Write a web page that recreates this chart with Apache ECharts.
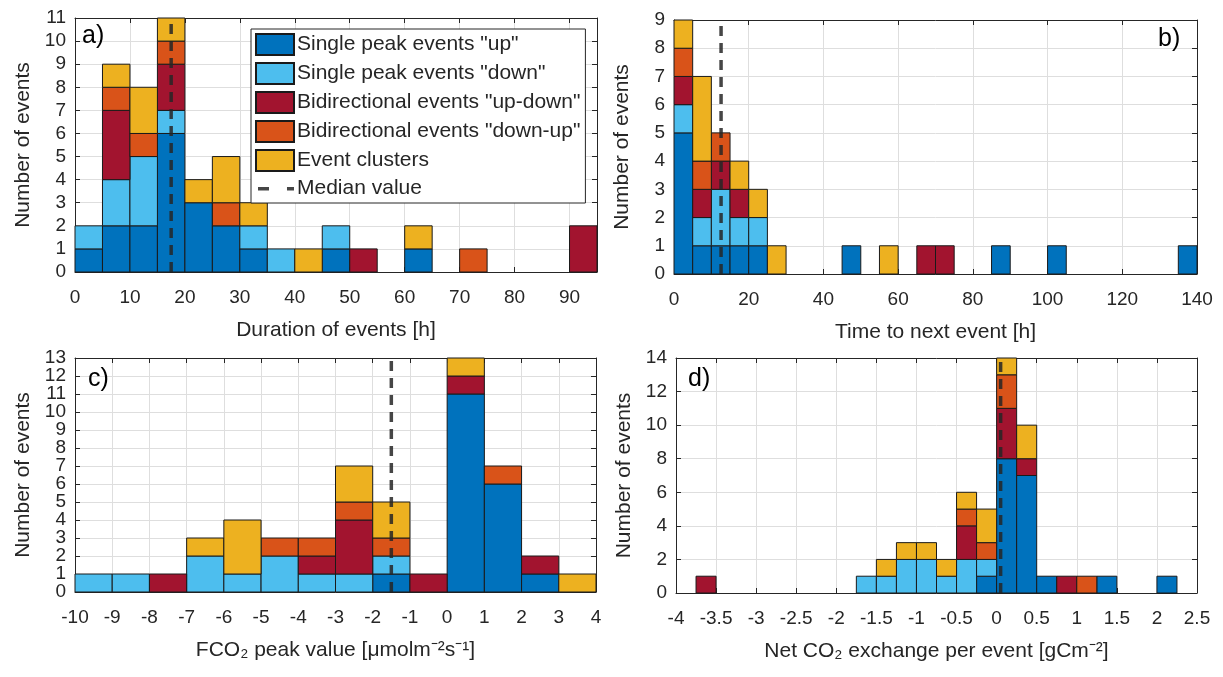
<!DOCTYPE html>
<html>
<head>
<meta charset="utf-8">
<script src="https://cdn.jsdelivr.net/npm/echarts@6/dist/echarts.min.js"></script>
<style>
  html, body { margin: 0; padding: 0; background: #fff; }
  #main { width: 1223px; height: 677px; }
</style>
</head>
<body>
<div id="main"></div>
<script>
// event types, same order in every panel (bottom to top of each stack)
const typeNames = ['Single peak events "up"', 'Single peak events "down"', 'Bidirectional events "up-down"', 'Bidirectional events "down-up"', 'Event clusters'];
const typeColors = ['#0072BD', '#4DBEEE', '#A2142F', '#D95319', '#EDB120'];

// a) duration of events, bins of 5 h starting at 0
const durStart = 0, durWidth = 5;
const durUp   = [1, 2, 2, 6, 3, 2, 1, 0, 0, 1, 0, 0, 1, 0, 0, 0, 0, 0, 0];
const durDown = [1, 2, 3, 1, 0, 0, 1, 1, 0, 1, 0, 0, 0, 0, 0, 0, 0, 0, 0];
const durUD   = [0, 3, 0, 2, 0, 0, 0, 0, 0, 0, 1, 0, 0, 0, 0, 0, 0, 0, 2];
const durDU   = [0, 1, 1, 1, 0, 1, 0, 0, 0, 0, 0, 0, 0, 0, 1, 0, 0, 0, 0];
const durCl   = [0, 1, 2, 1, 1, 2, 1, 0, 1, 0, 0, 0, 1, 0, 0, 0, 0, 0, 0];
const durMedian = 17.5;

// b) time to next event, bins of 5 h starting at 0
const nextStart = 0, nextWidth = 5;
const nextUp   = [5, 1, 1, 1, 1, 0, 0, 0, 0, 1, 0, 0, 0, 0, 0, 0, 0, 1, 0, 0, 1, 0, 0, 0, 0, 0, 0, 1];
const nextDown = [1, 1, 2, 1, 1, 0, 0, 0, 0, 0, 0, 0, 0, 0, 0, 0, 0, 0, 0, 0, 0, 0, 0, 0, 0, 0, 0, 0];
const nextUD   = [1, 1, 1, 1, 0, 0, 0, 0, 0, 0, 0, 0, 0, 1, 1, 0, 0, 0, 0, 0, 0, 0, 0, 0, 0, 0, 0, 0];
const nextDU   = [1, 1, 1, 0, 0, 0, 0, 0, 0, 0, 0, 0, 0, 0, 0, 0, 0, 0, 0, 0, 0, 0, 0, 0, 0, 0, 0, 0];
const nextCl   = [1, 3, 0, 1, 1, 1, 0, 0, 0, 0, 0, 1, 0, 0, 0, 0, 0, 0, 0, 0, 0, 0, 0, 0, 0, 0, 0, 0];
const nextMedian = 12.6;

// c) FCO2 peak value, bins of 1 starting at -10
const peakStart = -10, peakWidth = 1;
const peakUp   = [0, 0, 0, 0, 0, 0, 0, 0, 1, 0, 11, 6, 1, 0];
const peakDown = [1, 1, 0, 2, 1, 2, 1, 1, 1, 0, 0, 0, 0, 0];
const peakUD   = [0, 0, 1, 0, 0, 0, 1, 3, 0, 1, 1, 0, 1, 0];
const peakDU   = [0, 0, 0, 0, 0, 1, 1, 1, 1, 0, 0, 1, 0, 0];
const peakCl   = [0, 0, 0, 1, 3, 0, 0, 2, 2, 0, 1, 0, 0, 1];
const peakMedian = -1.5;

// d) net CO2 exchange per event, bins of 0.25 starting at -4
const netStart = -4, netWidth = 0.25;
const netUp   = [0, 0, 0, 0, 0, 0, 0, 0, 0, 0, 0, 0, 0, 0, 0, 1, 8, 7, 1, 0, 0, 1, 0, 0, 1, 0];
const netDown = [0, 0, 0, 0, 0, 0, 0, 0, 0, 1, 1, 2, 2, 1, 2, 1, 0, 0, 0, 0, 0, 0, 0, 0, 0, 0];
const netUD   = [0, 1, 0, 0, 0, 0, 0, 0, 0, 0, 0, 0, 0, 0, 2, 0, 3, 1, 0, 1, 0, 0, 0, 0, 0, 0];
const netDU   = [0, 0, 0, 0, 0, 0, 0, 0, 0, 0, 0, 0, 0, 0, 1, 1, 2, 0, 0, 0, 1, 0, 0, 0, 0, 0];
const netCl   = [0, 0, 0, 0, 0, 0, 0, 0, 0, 0, 1, 1, 1, 1, 1, 2, 1, 2, 0, 0, 0, 0, 0, 0, 0, 0];
const netMedian = 0.05;

const font = 'Liberation Sans, Arial, sans-serif';
const ink = '#262626';
const medianColor = 'rgba(38,38,38,0.85)';

const panels = [
  { grid: { left: 75, top: 18, width: 522, height: 254 }, x: [0, 95, 10], y: [0, 11, 1],
    start: durStart, width: durWidth, counts: [durUp, durDown, durUD, durDU, durCl], median: durMedian,
    xName: 'Duration of events [h]', tag: 'a)', tagPos: [82, 24] },
  { grid: { left: 674, top: 20, width: 523, height: 254 }, x: [0, 140, 20], y: [0, 9, 1],
    start: nextStart, width: nextWidth, counts: [nextUp, nextDown, nextUD, nextDU, nextCl], median: nextMedian,
    xName: 'Time to next event [h]', tag: 'b)', tagPos: [1158, 27] },
  { grid: { left: 75, top: 358, width: 521, height: 234 }, x: [-10, 4, 1], y: [0, 13, 1],
    start: peakStart, width: peakWidth, counts: [peakUp, peakDown, peakUD, peakDU, peakCl], median: peakMedian,
    xName: 'FCO\u2082 peak value [\u03bcmolm\u207b\u00b2s\u207b\u00b9]', tag: 'c)', tagPos: [88, 367] },
  { grid: { left: 676, top: 358, width: 521, height: 235 }, x: [-4, 2.5, 0.5], y: [0, 14, 2],
    start: netStart, width: netWidth, counts: [netUp, netDown, netUD, netDU, netCl], median: netMedian,
    xName: 'Net CO\u2082 exchange per event [gCm\u207b\u00b2]', tag: 'd)', tagPos: [688, 367] }
];

function renderBar(params, api) {
  const lo = api.coord([api.value(0), api.value(3)]);
  const hi = api.coord([api.value(1), api.value(2)]);
  return {
    type: 'rect',
    shape: { x: lo[0], y: lo[1], width: hi[0] - lo[0], height: hi[1] - lo[1] },
    style: { fill: api.visual('color'), stroke: '#1a1a1a', lineWidth: 1 }
  };
}

const grids = [], xAxes = [], yAxes = [], series = [], graphics = [];

panels.forEach((p, g) => {
  grids.push(p.grid);
  const common = {
    gridIndex: g, type: 'value',
    axisLine: { show: true, onZero: false, lineStyle: { color: ink, width: 1 } },
    axisTick: { show: true, inside: true, length: 5, lineStyle: { color: ink } }
  };
  const xi = xAxes.length, yi = yAxes.length;
  xAxes.push(Object.assign({}, common, {
    position: 'bottom', min: p.x[0], max: p.x[1], interval: p.x[2],
    splitLine: { show: true, lineStyle: { color: '#dedede' } },
    axisLabel: { fontSize: 19, color: ink, fontFamily: font, margin: 16,
      showMinLabel: true, showMaxLabel: (p.x[1] - p.x[0]) % p.x[2] === 0 },
    name: p.xName, nameLocation: 'middle', nameGap: 48,
    nameTextStyle: { fontSize: 21, color: ink, fontFamily: font }
  }));
  xAxes.push(Object.assign({}, common, {
    position: 'top', min: p.x[0], max: p.x[1], interval: p.x[2],
    splitLine: { show: false }, axisLabel: { show: false }
  }));

  // y tick labels are split over two overlaid left axes (even / odd steps)
  // so the densely packed labels are never dropped for overlapping
  const stepOf = v => Math.round((v - p.y[0]) / p.y[2]);
  yAxes.push(Object.assign({}, common, {
    position: 'left', min: p.y[0], max: p.y[1], interval: p.y[2],
    splitLine: { show: true, lineStyle: { color: '#dedede' } },
    axisLabel: { fontSize: 19, color: ink, fontFamily: font, margin: 9,
      showMinLabel: true, showMaxLabel: true,
      formatter: v => (stepOf(v) % 2 === 0 ? String(v) : '') },
    name: 'Number of events', nameLocation: 'middle', nameGap: 41,
    nameTextStyle: { fontSize: 21, color: ink, fontFamily: font }
  }));
  yAxes.push(Object.assign({}, common, {
    position: 'left', offset: 0, min: p.y[0], max: p.y[1], interval: p.y[2],
    axisLine: { show: false }, axisTick: { show: false }, splitLine: { show: false },
    axisLabel: { fontSize: 19, color: ink, fontFamily: font, margin: 9,
      showMinLabel: true, showMaxLabel: true,
      formatter: v => (stepOf(v) % 2 === 1 ? String(v) : '') }
  }));
  yAxes.push(Object.assign({}, common, {
    position: 'right', min: p.y[0], max: p.y[1], interval: p.y[2],
    splitLine: { show: false }, axisLabel: { show: false }
  }));

  const base = p.counts[0].map(() => 0);
  p.counts.forEach((arr, c) => {
    const data = [];
    arr.forEach((n, i) => {
      if (n > 0) {
        const x0 = p.start + i * p.width;
        data.push([x0, x0 + p.width, base[i], base[i] + n]);
      }
      base[i] += n;
    });
    series.push({
      name: typeNames[c], type: 'custom', xAxisIndex: xi, yAxisIndex: yi,
      renderItem: renderBar, encode: { x: [0, 1], y: [2, 3] },
      itemStyle: { color: typeColors[c], borderColor: '#1a1a1a', borderWidth: 1 },
      data: data, z: 2
    });
  });

  series.push({
    name: 'Median value', type: 'line', xAxisIndex: xi, yAxisIndex: yi,
    symbol: 'none', silent: true, z: 5,
    lineStyle: { color: medianColor, width: 3.5, type: [10, 7] },
    itemStyle: { color: medianColor },
    data: [[p.median, p.y[0]], [p.median, p.y[1]]]
  });

  graphics.push({
    type: 'text', left: p.tagPos[0], top: p.tagPos[1], z: 10,
    style: { text: p.tag, fontSize: 25, fill: '#000', fontFamily: font }
  });
});

// two short dashes for the median entry; the tiny corner squares fix the icon box to 38x21
const dashIcon = 'path://M0,0h0.01v0.01h-0.01zM38,21h0.01v0.01h-0.01zM2,9h11v3.5h-11zM31,9h7v3.5h-7z';

const chart = echarts.init(document.getElementById('main'));
chart.setOption({
  backgroundColor: '#fff',
  animation: false,
  grid: grids,
  xAxis: xAxes,
  yAxis: yAxes,
  series: series,
  graphic: graphics,
  legend: {
    left: 251, top: 29, orient: 'vertical',
    itemWidth: 38, itemHeight: 21, itemGap: 6,
    padding: [4, 5, 4, 4],
    backgroundColor: '#fff', borderColor: ink, borderWidth: 1, borderRadius: 0,
    textStyle: { fontSize: 21, color: ink, fontFamily: font, padding: [0, 0, 0, -2] },
    data: typeNames.map(n => ({ name: n, icon: 'rect' })).concat([{ name: 'Median value', icon: dashIcon }])
  }
});
</script>
</body>
</html>
